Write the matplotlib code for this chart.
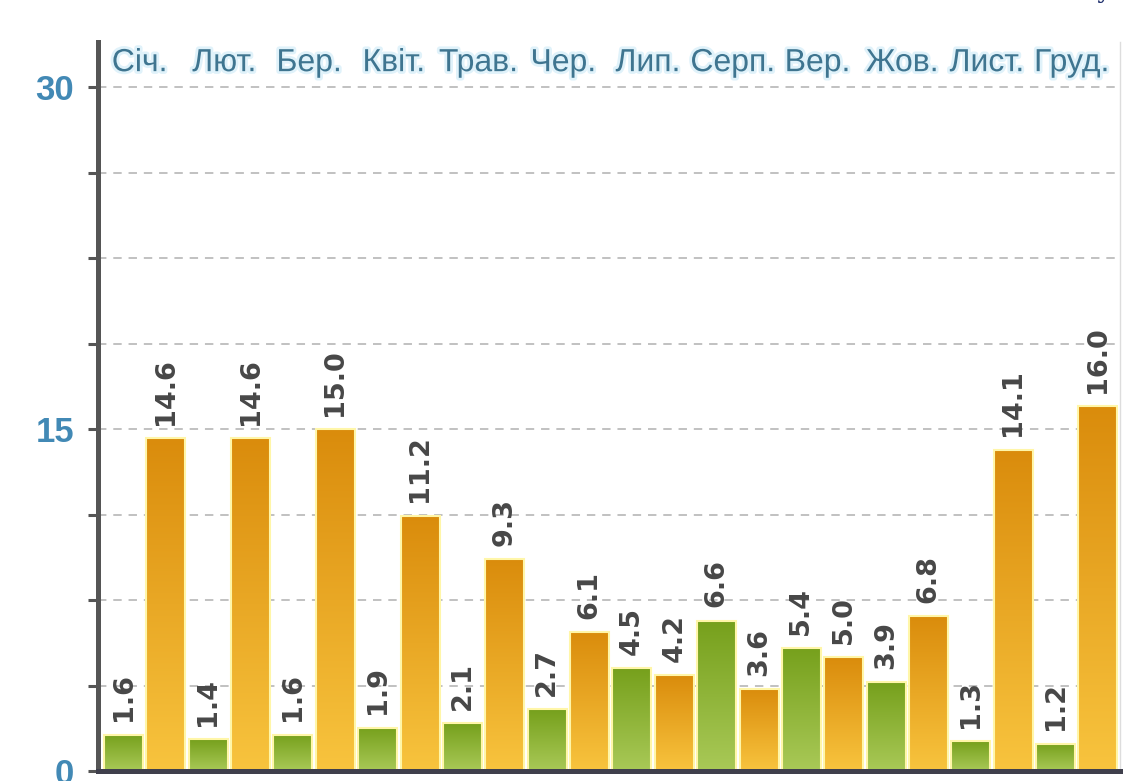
import numpy as np
import matplotlib
matplotlib.use("Agg")
import matplotlib.pyplot as plt
import matplotlib.patheffects as pe
from matplotlib.colors import to_rgb

# ---- data ----
months = ["Січ.", "Лют.", "Бер.", "Квіт.", "Трав.", "Чер.",
          "Лип.", "Серп.", "Вер.", "Жов.", "Лист.", "Груд."]
green_vals = [1.6, 1.4, 1.6, 1.9, 2.1, 2.7, 4.5, 6.6, 5.4, 3.9, 1.3, 1.2]
orange_vals = [14.6, 14.6, 15.0, 11.2, 9.3, 6.1, 4.2, 3.6, 5.0, 6.8, 14.1, 16.0]
ytick_vals = [0, 3.75, 7.5, 11.25, 15, 18.75, 22.5, 26.25, 30]
ytick_labels = ["0", "", "", "", "15", "", "", "", "30"]

# ---- style ----
green_top, green_bot = "#76a01c", "#a9c957"
orange_top, orange_bot = "#da8c0c", "#f8c43e"
edge_col = "#fff6a8"
narrow = ["Liberation Sans Narrow", "Liberation Sans", "DejaVu Sans"]

fig = plt.figure(figsize=(11.25, 7.81), dpi=100)
W, H = 1125, 781
ax = fig.add_axes([97.5 / W, 1 - 771 / H, (1120 - 97.5) / W, (771 - 41.5) / H])

def grad_bar(ax, x, h, ctop, cbot, width=0.92):
    bars = ax.bar([x], [h], width=width, color="none", edgecolor=edge_col,
                  linewidth=1.5, zorder=3)
    rect = bars[0]
    n = 128
    t = np.linspace(0, 1, n)[:, None]
    c0 = np.array(to_rgb(ctop)); c1 = np.array(to_rgb(cbot))
    img = (c0[None, :] * (1 - t) + c1[None, :] * t)[:, None, :]
    im = ax.imshow(img, extent=(x - width / 2, x + width / 2, 0, h),
                   origin="upper", aspect="auto", zorder=2, interpolation="bilinear")
    im.set_clip_path(rect)
    return rect

for i in range(len(months)):
    xg = 2 * i
    xo = 2 * i + 1
    grad_bar(ax, xg, green_vals[i], green_top, green_bot)
    grad_bar(ax, xo, orange_vals[i], orange_top, orange_bot)
    for x, v in ((xg, green_vals[i]), (xo, orange_vals[i])):
        ax.annotate(f"{v:.1f}", (x, v), xytext=(0, 9.5), textcoords="offset points",
                    rotation=90, ha="center", va="bottom", fontsize=19.5,
                    fontweight="bold", color="#474747", family="DejaVu Sans",
                    zorder=5)
    ax.text(2 * i + 0.5 - 0.12, 31.05, months[i], ha="center", va="center",
            fontsize=23, color="#3f7590", family=narrow, zorder=5,
            path_effects=[pe.withStroke(linewidth=4, foreground="#e0f2fa")])

ax.set_aspect("auto")
ax.set_xlim(-0.614, 23.52)
ax.set_ylim(0, 32)

# grid
ax.set_yticks(ytick_vals)
ax.set_yticklabels(ytick_labels)
for y in ytick_vals[1:]:
    ax.axhline(y, color="#b0b0b0", lw=1.1, ls=(0, (5.5, 4.5)), zorder=1)
ax.set_xticks([])

ax.tick_params(axis="y", direction="out", length=7, width=2.2, color="#555555",
               pad=10)
for lab in ax.get_yticklabels():
    lab.set_fontsize(25)
    lab.set_fontweight("bold")
    lab.set_color("#4289b5")
    lab.set_family(narrow)

ax.spines["top"].set_visible(False)
ax.spines["left"].set_linewidth(3.6)
ax.spines["left"].set_color("#555555")
ax.spines["bottom"].set_linewidth(3.6)
ax.spines["bottom"].set_color("#3f3f4c")
ax.spines["right"].set_linewidth(1)
ax.spines["right"].set_color("#dddddd")
ax.spines["bottom"].set_zorder(6)
ax.spines["left"].set_zorder(6)

fig.text(1097 / W, 1 + 2 / H, "у", fontsize=18, color="#1c2d6b",
         ha="left", va="baseline", family="DejaVu Serif")

fig.savefig("out.png", dpi=100)
